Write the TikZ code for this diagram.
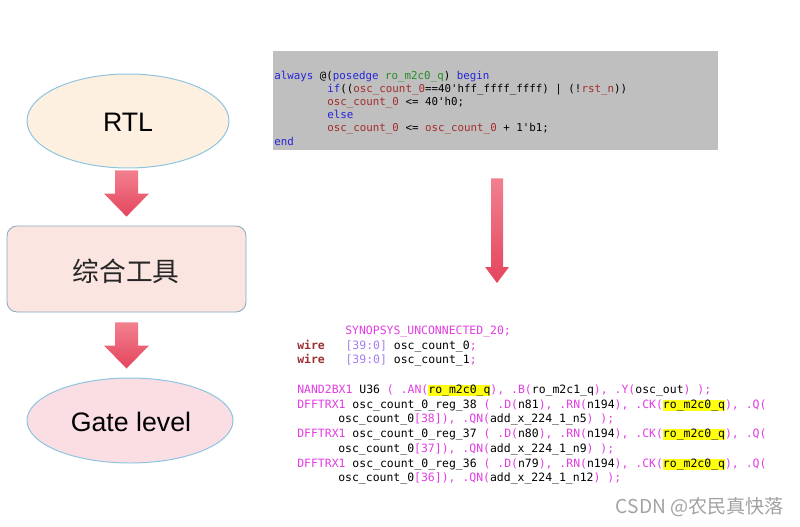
\documentclass[tikz,border=0pt]{standalone}
\usepackage{fontspec}
\setmainfont{Liberation Sans}
\newfontfamily\cjkfont{Noto Sans CJK SC}
\newfontfamily\codefont{DejaVu Sans Mono}
\usetikzlibrary{calc,shapes.geometric}

\definecolor{rtlfill}{HTML}{FDF0E1}
\definecolor{synfill}{HTML}{FBE5E1}
\definecolor{gatefill}{HTML}{FADEE4}
\definecolor{ellborder}{HTML}{8CC4E0}
\definecolor{boxborder}{HTML}{86A9C2}
\definecolor{arrtop}{HTML}{F2808F}
\definecolor{arrbot}{HTML}{E4455D}
\definecolor{vblue}{HTML}{2424DC}
\definecolor{vgreen}{HTML}{238E23}
\definecolor{vred}{HTML}{A32C2C}
\definecolor{nmag}{HTML}{E23CE2}
\definecolor{nlav}{HTML}{A47CF2}
\definecolor{nwire}{HTML}{9A3030}
\definecolor{hlyellow}{HTML}{FFFF10}
\definecolor{wmark}{HTML}{A2A2A2}

\def\px{0.025cm}
\newcommand\vkw[1]{\textcolor{vblue}{#1}}
\newcommand\vclk[1]{\textcolor{vgreen}{#1}}
\newcommand\vsig[1]{\textcolor{vred}{#1}}
\newcommand\nm[1]{\textcolor{nmag}{#1}}
\newcommand\nr[1]{\textcolor{nlav}{#1}}
\newcommand\nw[1]{\textcolor{nwire}{\bfseries #1}}
\newcommand\hl[1]{{\setlength{\fboxsep}{0pt}\colorbox{hlyellow}{\rule[-1.8pt]{0pt}{6.9pt}#1}}}
\def\blockarrow(#1)(#2)(#3:#4:#5){\shade[top color=arrtop, bottom color=arrbot] ($(#1)+(-#3,0)$) -- ($(#2)+(-#3,-#5)$) -- ($(#2)+(-#4,-#5)$) -- (#2) -- ($(#2)+(#4,-#5)$) -- ($(#2)+(#3,-#5)$) -- ($(#1)+(#3,0)$) -- cycle;}

\tikzset{
  flowell/.style={ellipse, draw=ellborder, line width=0.7pt, inner sep=0pt},
  rtlcode/.style={inner sep=0pt, anchor=base west, font=\codefont\fontsize{7.7}{9}\selectfont},
  netcode/.style={inner sep=0pt, anchor=base west, font=\codefont\fontsize{8.15}{10}\selectfont},
}

\begin{document}
\begin{tikzpicture}[x=\px, y=-\px]
			%%%%% START %%%%%
			\useasboundingbox (0, 0) rectangle (800, 526);
			
			% flow on the left
			\node[flowell, fill=rtlfill, minimum width={202*\px}, minimum height={94*\px}] (rtl) at (128, 121) {};
			\node[font=\fontsize{19}{22}\selectfont] at (128, 122) {RTL};
			
			\node[rectangle, rounded corners={10*\px}, draw=boxborder, fill=synfill, line width=0.6pt, minimum width={239*\px}, minimum height={86*\px}] (synth) at (126.5, 269) {};
			\node[font=\cjkfont\fontsize{19}{22}\selectfont, text=black!85] at (126, 271) {综合工具};
			
			\node[flowell, fill=gatefill, minimum width={206*\px}, minimum height={85*\px}] (gate) at (130, 420.5) {};
			\node[font=\fontsize{19}{22}\selectfont] at (131, 422) {Gate level};
			
			\coordinate (a1s) at ($(rtl.south)+(-1.5, 2)$);
			\coordinate (a1e) at ($(synth.north)+(0, -9)$);
			\blockarrow(a1s)(a1e)(11.5:22.5:23)
			\coordinate (a2s) at ($(synth.south)+(0, 10)$);
			\coordinate (a2e) at ($(gate.north)+(-3.5, -9)$);
			\blockarrow(a2s)(a2e)(11.5:22.5:23)
			
			% rtl code
			\node[fill=black!25, minimum width={445*\px}, minimum height={99*\px}, inner sep=0pt] (vcode) at (495.5, 100.5) {};
			\node[rtlcode] (v1) at (274, 79) {\vkw{always} @(\vkw{posedge} \vclk{ro\_m2c0\_q}) \vkw{begin}};
			\node[rtlcode] (v2) at (327, 92.2) {\vkw{if}((\vsig{osc\_count\_0}==40'hff\_ffff\_ffff) | (!\vsig{rst\_n}))};
			\node[rtlcode] (v3) at (327, 105.4) {\vsig{osc\_count\_0} <= 40'h0;};
			\node[rtlcode] (v4) at (327, 118.6) {\vkw{else}};
			\node[rtlcode] (v5) at (327, 131.8) {\vsig{osc\_count\_0} <= \vsig{osc\_count\_0} + 1'b1;};
			\node[rtlcode] (v6) at (274, 145) {\vkw{end}};
			
			% down to the netlist
			\coordinate (a3s) at ($(vcode.south)+(1.5, 28)$);
			\coordinate (netlist) at (497, 283);
			\blockarrow(a3s)(netlist)(6:12:16)
			
			% gate level netlist
			\node[netcode] (n1) at (345, 334.5) {\nm{SYNOPSYS\_UNCONNECTED\_20;}};
			\node[netcode] (n2) at (297, 349.2) {\nw{wire}\ \ \ \nr{[39:0]} osc\_count\_0\nm{;}};
			\node[netcode] (n3) at (297, 363.9) {\nw{wire}\ \ \ \nr{[39:0]} osc\_count\_1\nm{;}};
			\node[netcode] (n4) at (297, 393.5) {\nm{NAND2BX1} U36 \nm{( .AN(}\hl{ro\_m2c0\_q}\nm{), .B(}ro\_m2c1\_q\nm{), .Y(}osc\_out\nm{) );}};
			\node[netcode] (n5) at (297, 408.2) {\nm{DFFTRX1} osc\_count\_0\_reg\_38 \nm{( .D(}n81\nm{), .RN(}n194\nm{), .CK(}\hl{ro\_m2c0\_q}\nm{), .Q(}};
			\node[netcode] (n6) at (338, 422.9) {osc\_count\_0\nm{[38]), .QN(}add\_x\_224\_1\_n5\nm{) );}};
			\node[netcode] (n7) at (297, 437.6) {\nm{DFFTRX1} osc\_count\_0\_reg\_37 \nm{( .D(}n80\nm{), .RN(}n194\nm{), .CK(}\hl{ro\_m2c0\_q}\nm{), .Q(}};
			\node[netcode] (n8) at (338, 452.3) {osc\_count\_0\nm{[37]), .QN(}add\_x\_224\_1\_n9\nm{) );}};
			\node[netcode] (n9) at (297, 467) {\nm{DFFTRX1} osc\_count\_0\_reg\_36 \nm{( .D(}n79\nm{), .RN(}n194\nm{), .CK(}\hl{ro\_m2c0\_q}\nm{), .Q(}};
			\node[netcode] (n10) at (338, 481.7) {osc\_count\_0\nm{[36]), .QN(}add\_x\_224\_1\_n12\nm{) );}};
			
			\node[font=\cjkfont\fontsize{13.6}{15}\selectfont, text=wmark] (mark) at (700, 507) {CSDN @农民真快落};
			
			%%%%% END %%%%%
		\end{tikzpicture}
\end{document}
